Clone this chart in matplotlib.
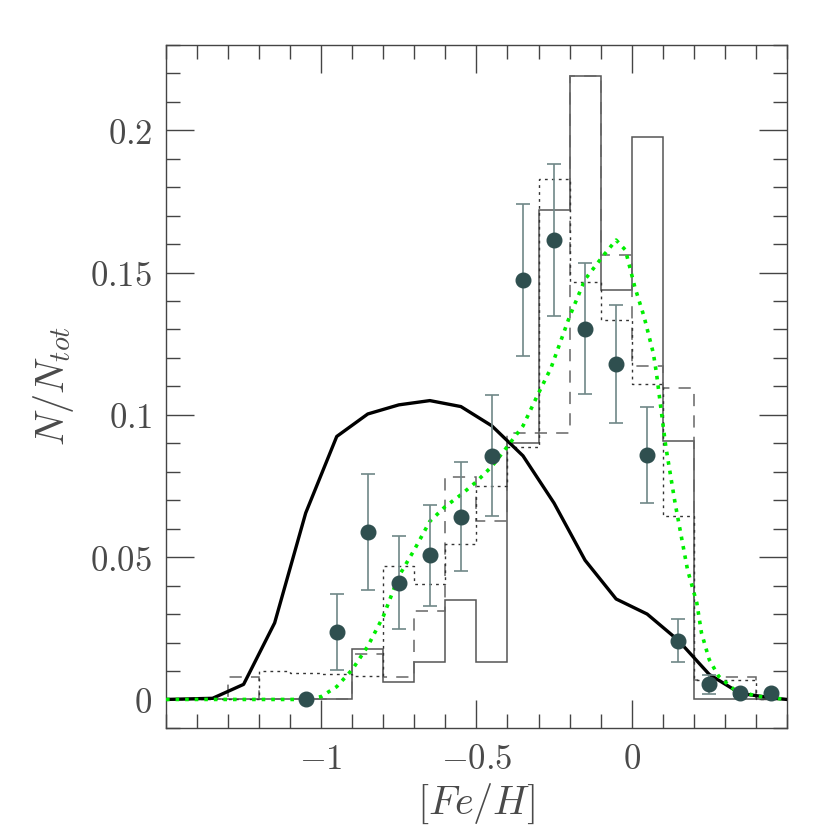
import numpy as np
import matplotlib
matplotlib.use("Agg")
import matplotlib.pyplot as plt
from matplotlib.ticker import MultipleLocator, FixedLocator, FuncFormatter

plt.rcParams["mathtext.fontset"] = "cm"
plt.rcParams["font.family"] = "serif"

# -----------------------------
# Data
# -----------------------------
BIN_EDGES = np.round(np.arange(-1.5, 0.5001, 0.1), 2)

# three histograms, 20 bins of width 0.1 from -1.5 to 0.5
HIST_SOLID = [0, 0, 0, 0, 0, 0, 0.0178, 0.0062, 0.0131, 0.0349,
              0.0131, 0.090, 0.1719, 0.219, 0.1439, 0.1977, 0.0909, 0, 0, 0]
HIST_DASHED = [0, 0, 0.0078, 0, 0, 0, 0.0158, 0.0078, 0.031, 0.0781,
               0.0626, 0.0936, 0.0936, 0.219, 0.156, 0.117, 0.1094, 0.007, 0.0078, 0]
HIST_DOTTED = [0, 0, 0, 0.0099, 0.0094, 0.0089, 0.0084, 0.0468, 0.0406, 0.0546,
               0.0751, 0.0887, 0.183, 0.1468, 0.1333, 0.1109, 0.0643, 0.0068, 0.0068, 0]

# observed points with errors
OBS_X = [-1.05, -0.95, -0.85, -0.75, -0.65, -0.55, -0.45, -0.35,
         -0.25, -0.15, -0.05, 0.05, 0.15, 0.25, 0.35, 0.45]
OBS_Y = [0, 0.0237, 0.0588, 0.041, 0.0506, 0.0642, 0.0857, 0.1474,
         0.1614, 0.1303, 0.1179, 0.0859, 0.0207, 0.0053, 0.0023, 0.0021]
OBS_ERR = [0, 0.0133, 0.0205, 0.0164, 0.0177, 0.0191, 0.0212, 0.0267,
           0.0267, 0.023, 0.0207, 0.0168, 0.0077, 0.0033, 0.001, 0]

# thick black model curve
MODEL_X = [-1.5, -1.35, -1.25, -1.15, -1.05, -0.95, -0.85, -0.75, -0.65, -0.55,
           -0.45, -0.35, -0.25, -0.15, -0.05, 0.05, 0.15, 0.25, 0.35, 0.45, 0.5]
MODEL_Y = [0, 0.0004, 0.0053, 0.0269, 0.0655, 0.0924, 0.1003, 0.1035, 0.105, 0.1029,
           0.0961, 0.0856, 0.069, 0.0489, 0.0353, 0.030, 0.0208, 0.0088, 0.0021, 0.0006, 0]

# green dotted model curve
GREEN_X = [-1.5, -1.05, -1.0, -0.95, -0.90, -0.85, -0.80, -0.75, -0.70, -0.65,
           -0.60, -0.55, -0.50, -0.45, -0.40, -0.35, -0.30, -0.26, -0.20, -0.15,
           -0.09, -0.05, -0.02, 0.01, 0.04, 0.07, 0.08, 0.11, 0.14, 0.16,
           0.18, 0.21, 0.225, 0.25, 0.28, 0.33, 0.40, 0.50]
GREEN_Y = [0, 0, 0.001, 0.0045, 0.0105, 0.0187, 0.0292, 0.0433, 0.0526, 0.0626,
           0.0678, 0.0719, 0.0765, 0.0819, 0.0889, 0.0961, 0.1076, 0.1164, 0.1345, 0.1476,
           0.1561, 0.1614, 0.1579, 0.145, 0.1345, 0.1216, 0.1146, 0.0889, 0.069, 0.0573,
           0.0456, 0.0339, 0.0234, 0.014, 0.0082, 0.0035, 0.0012, 0]

X_TICKS = [-1, -0.5, 0]
Y_TICKS = [0, 0.05, 0.1, 0.15, 0.2]
X_LABEL = r"$[Fe/H]$"
Y_LABEL = r"$N/N_{tot}$"

# -----------------------------
# Plot
# -----------------------------
fig = plt.figure(figsize=(8.3, 8.3), dpi=100)
ax = fig.add_axes([0.2, 0.123, 0.748, 0.823])

ax.stairs(HIST_SOLID, BIN_EDGES, color="#555555", linewidth=1.1)
ax.stairs(HIST_DASHED, BIN_EDGES, color="#666666", linewidth=1.1,
          linestyle=(0, (8, 6)))
ax.stairs(HIST_DOTTED, BIN_EDGES, color="#333333", linewidth=1.0,
          linestyle=(0, (2, 3)))

ax.plot(MODEL_X, MODEL_Y, color="black", linewidth=2.4, zorder=4)
ax.plot(GREEN_X, GREEN_Y, color="#00ee00", linewidth=2.6, linestyle=":", zorder=5)

ax.errorbar(OBS_X, OBS_Y, yerr=OBS_ERR, fmt="o", color="#2f4f4f",
            markersize=10.5, ecolor="#6f8787", elinewidth=1.2,
            capsize=5, capthick=1.2, zorder=6)

ax.set_xlim(-1.5, 0.5)
ax.set_ylim(-0.01, 0.23)

ax.xaxis.set_major_locator(FixedLocator(X_TICKS))
ax.xaxis.set_minor_locator(MultipleLocator(0.1))
ax.yaxis.set_major_locator(FixedLocator(Y_TICKS))
ax.yaxis.set_minor_locator(MultipleLocator(0.01))

fmt = FuncFormatter(lambda v, p: "$%s$" % ("%g" % round(v, 3)))
ax.xaxis.set_major_formatter(fmt)
ax.yaxis.set_major_formatter(fmt)

ax.tick_params(which="both", direction="in", top=True, right=True,
               color="#444444", width=1.0, labelcolor="#4a4a4a", labelsize=25)
ax.tick_params(which="major", length=20, pad=10)
ax.tick_params(which="minor", length=10)

for sp in ax.spines.values():
    sp.set_color("#444444")
    sp.set_linewidth(1.0)

ax.set_xlabel(X_LABEL, fontsize=29, color="#4a4a4a", labelpad=4)
ax.set_ylabel(Y_LABEL, fontsize=29, color="#4a4a4a", labelpad=10)

fig.savefig("out.png", dpi=100)
